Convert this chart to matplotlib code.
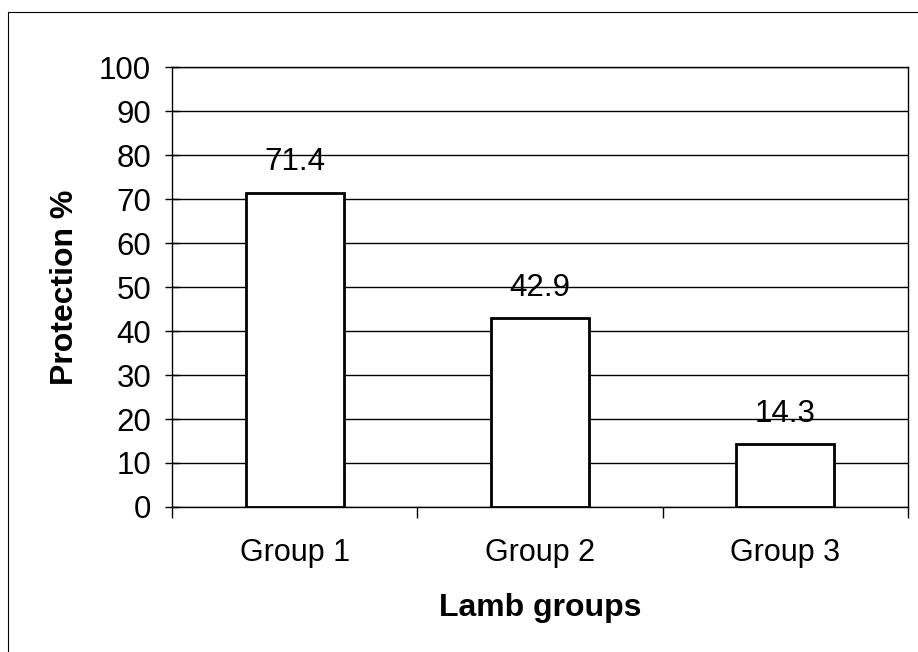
import matplotlib
matplotlib.use("Agg")
import matplotlib.pyplot as plt
from matplotlib.lines import Line2D

groups = ["Group 1", "Group 2", "Group 3"]
protection = [71.4, 42.9, 14.3]
yticks = list(range(0, 101, 10))

plt.rcParams['font.family'] = ['Liberation Sans', 'DejaVu Sans']

fig = plt.figure(figsize=(9.18, 6.52), dpi=100)
ax = fig.add_axes([0.1874, 0.2224, 0.989 - 0.1874, 0.8972 - 0.2224])

x = list(range(len(groups)))
bars = ax.bar(x, protection, width=0.4, color="white", edgecolor="black",
              linewidth=2, zorder=2)

for xi, v in zip(x, protection):
    ax.annotate(f"{v}", (xi, v), xytext=(0, 22), textcoords="offset points",
                ha="center", va="center", fontsize=22.5, zorder=0.4)

ax.set_xlim(-0.5, len(groups) - 0.5)
ax.set_ylim(0, 100)
ax.set_yticks(yticks)
ax.yaxis.grid(True, color="black", linewidth=1)
ax.set_axisbelow(True)

ax.set_xticks(x)
ax.set_xticklabels(groups, fontsize=22)
ax.set_xticks([i - 0.5 for i in range(len(groups) + 1)], minor=True)
ax.tick_params(axis="x", which="major", length=0, pad=22)
ax.tick_params(axis="x", which="minor", length=8, direction="out", width=1)
ax.tick_params(axis="y", which="major", length=10, direction="inout", width=1,
               labelsize=22.5, pad=10)

for s in ax.spines.values():
    s.set_color("black")
    s.set_linewidth(1)

ax.set_ylabel("Protection %", fontsize=23, fontweight="bold", labelpad=14)
ax.set_xlabel("Lamb groups", fontsize=23, fontweight="bold", labelpad=18)

# outer chart frame (left and top edges visible in the scan)
fig.add_artist(Line2D([8 / 918, 8 / 918], [0, 1 - 12 / 652], color="black", linewidth=0.8))
fig.add_artist(Line2D([8 / 918, 1], [1 - 12 / 652, 1 - 12 / 652], color="black", linewidth=0.8))

fig.savefig("out.png", dpi=100)
